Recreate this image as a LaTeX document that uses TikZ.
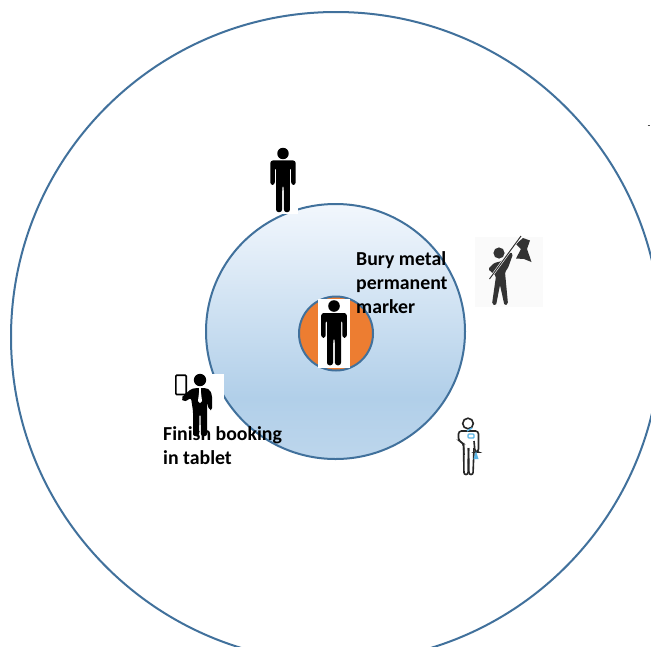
\documentclass[tikz,border=0pt]{standalone}
\usepackage{fontspec}
\usetikzlibrary{shapes.geometric}
\setmainfont{Carlito}
\definecolor{ringblue}{HTML}{41719C}
\definecolor{coreorange}{HTML}{ED7D31}
\definecolor{flagdark}{HTML}{333333}
\definecolor{dropblue}{HTML}{5BB5E5}
\definecolor{disctop}{HTML}{F2F7FD}
\definecolor{discmid}{HTML}{B1CFE9}
\definecolor{discbot}{HTML}{BDD6EC}
\pgfdeclareverticalshading{discshade}{100bp}{
  color(0bp)=(discbot);
  color(25bp)=(discbot);
  color(37bp)=(discmid);
  color(75bp)=(disctop);
  color(100bp)=(disctop)
}
\tikzset{
  ring/.style={draw=ringblue,line width=2pt},
  label/.style={font=\bfseries\fontsize{19.8}{24}\selectfont,align=left,anchor=north west,inner sep=0pt,text=black},
  backing/.style={fill=white,draw=none}
}
% standing figure; origin at head centre, y downward
\newcommand{\stander}[3]{%
  \begin{scope}[shift={(#1,#2)},scale=#3]
    \fill (0,0) circle (5.8);
    \fill[rounded corners=2.6] (-12.8,31.8)--(-12.8,7)--(12.8,7)--(12.8,31.8)--(8.3,31.8)--(8.3,14)--(7,14)--(7,59.3)--(1,59.3)--(.7,32)--(-.7,32)--(-1,59.3)--(-7,59.3)--(-7,14)--(-8.3,14)--(-8.3,31.8)--cycle;
  \end{scope}}
\begin{document}
\begin{tikzpicture}[x=1pt,y=-1pt]
\useasboundingbox (0,0) rectangle (651,646);
\fill[white] (0,0) rectangle (651,646);
\begin{scope}
\clip (0,0) rectangle (651,646);
\node[circle,ring,minimum size=650pt,inner sep=0pt] (outer) at (336,337) {};
\end{scope}
\node[ellipse,ring,minimum width=259pt,minimum height=255pt,inner sep=0pt,shading=discshade] (middle) at (335.5,331.5) {};
\node[circle,ring,fill=coreorange,minimum size=74pt,inner sep=0pt] (core) at (336,333.5) {};
\draw[line width=1pt,black!70] (647.5,125.5) -- (649.5,125.5);

% centre figure
\fill[backing] (318,299) rectangle (350,368);
\stander{334}{306}{1}
% top figure
\fill[backing] (267,147) rectangle (298,214);
\stander{283}{153.5}{.99}

% tablet figure
\fill[backing] (173,374) rectangle (224,437);
\begin{scope}
  \fill (200,380) circle (6.2);
  \fill[rounded corners=2] (193,436)--(193,411)--(191,398)--(184,402)--(181,398)--(191,389)--(196,388)--(206,388)--(210,390)--(212,395)--(212,410)--(209,410)--(207,402)--(207,436)--(201,436)--(200.5,414)--(199.5,414)--(199,436)--cycle;
  \fill[white] (199,388)--(201,388)--(200.8,391)--(202,401)--(200,403)--(198,401)--(199.2,391)--cycle;
  \draw[line width=1.6pt,black,fill=white,rounded corners=1] (175.8,375.2)rectangle(186.2,394.5);
\end{scope}

% flag figure
\fill[black!2] (475,237) rectangle (543,307);
\begin{scope}[flagdark]
  \fill (499,253) circle (5.6);
  \fill (523,238)--(530,240.5)--(527,249)--(531.5,262)--(524,259)--(516,258.5)--(521,249)--(516,244)--cycle;
  \fill[rounded corners=1.5] (488,269)--(494,263)--(502,261)--(510,252)--(513,254)--(508,268)--(505,272)--(508,304)--(504.5,305.5)--(500,285)--(496,305.5)--(492,304)--(496,276)--cycle;
  \draw[white,line width=2.2pt] (521,236)--(489.5,279);
  \draw[flagdark,line width=1pt] (521,236)--(489.5,279);
\end{scope}

% outline figure
\fill[backing] (455,415) rectangle (484,478);
\begin{scope}[line width=1.6pt,black!85]
  \draw (468,423.5) circle (5.3);
  \draw[rounded corners=3] (464,455)--(463.5,443)--(458.5,441)--(458.5,431)--(478.5,431)--(478.5,452)--(475,452)--(474,441);
  \draw[rounded corners=2] (463.5,443)--(464,474.5)--(468,474.5)--(468.5,448);
  \draw[rounded corners=2] (468.5,448)--(469,474.5)--(473,474.5)--(474,448);
  \draw[dropblue,line width=1.4pt] (467,431)--(472,428);
  \draw[dropblue,line width=1.4pt,rounded corners=1] (468,434)rectangle(474,438);
  \fill[dropblue] (476,451)--(478.5,459)--(473.5,459)--cycle;
\end{scope}

\node[label] (bury) at (356,251.5) {Bury metal\\permanent\\marker};
\node[label] (finish) at (163,426.5) {Finish booking\\in tablet};
\end{tikzpicture}
\end{document}
